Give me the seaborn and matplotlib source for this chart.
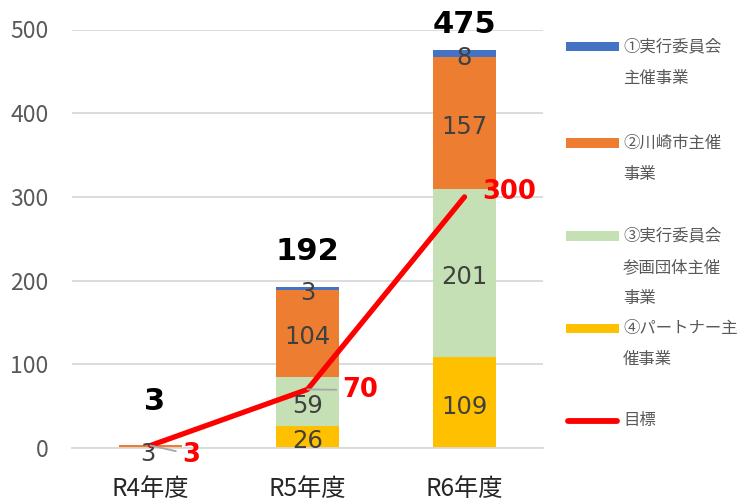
import numpy as np
import pandas as pd
import matplotlib
matplotlib.use("Agg")
import matplotlib.pyplot as plt
from matplotlib.lines import Line2D
from matplotlib.patches import Rectangle
import seaborn as sns

# ---------------- data ----------------
categories = ["R4年度", "R5年度", "R6年度"]
s1_jikko = [0, 3, 8]          # ①実行委員会主催事業
s2_kawasaki = [3, 104, 157]   # ②川崎市主催事業
s3_sankaku = [0, 59, 201]     # ③実行委員会参画団体主催事業
s4_partner = [0, 26, 109]     # ④パートナー主催事業
target = [3, 70, 300]         # 目標
yticks = [0, 100, 200, 300, 400, 500]

series_labels = ["①実行委員会\n主催事業", "②川崎市主催\n事業",
                 "③実行委員会\n参画団体主催\n事業", "④パートナー主\n催事業", "目標"]

# ---------------- style ----------------
C1, C2, C3, C4 = "#4472C4", "#ED7D31", "#C5E0B4", "#FFC000"
RED = "#FF0000"
GRID = "#D9D9D9"

sns.set_theme(style="white")
plt.rcParams["font.family"] = ["Noto Sans CJK JP", "DejaVu Sans"]

fig = plt.figure(figsize=(7.42, 5.01), dpi=100)
W, H = 742, 501
ax = fig.add_axes([72 / W, 1 - 448 / H, 471 / W, (448 - 29.5) / H])

df = pd.DataFrame({"cat": categories,
                   "s1": s1_jikko, "s2": s2_kawasaki,
                   "s3": s3_sankaku, "s4": s4_partner, "target": target})
df["c4"] = df["s4"]
df["c3"] = df["c4"] + df["s3"]
df["c2"] = df["c3"] + df["s2"]
df["c1"] = df["c2"] + df["s1"]

# stacked bars: draw cumulative layers, tallest first
for col, color in [("c1", C1), ("c2", C2), ("c3", C3), ("c4", C4)]:
    sns.barplot(data=df, x="cat", y=col, color=color, width=0.4,
                saturation=1, linewidth=0, ax=ax, zorder=2)

# target line
df["xpos"] = np.arange(len(categories))
sns.lineplot(data=df, x="xpos", y="target", color=RED, linewidth=3.8,
             ax=ax, zorder=4, solid_capstyle="round", sort=False)

ax.set_xlim(-0.5, len(categories) - 0.5)
ax.set_ylim(0, 500)
ax.set_yticks(yticks)
ax.set_xticks(range(len(categories)))
ax.set_xticklabels(categories)
ax.set_xlabel("")
ax.set_ylabel("")
ax.yaxis.grid(True, color=GRID, linewidth=1.3, zorder=0)
ax.set_axisbelow(True)
for sp in ["top", "right", "left"]:
    ax.spines[sp].set_visible(False)
ax.spines["bottom"].set_color(GRID)
ax.spines["bottom"].set_linewidth(1.3)
ax.tick_params(axis="y", length=0, pad=17, labelsize=16.5, labelcolor="#595959")
ax.tick_params(axis="x", length=0, pad=20, labelsize=17.5, labelcolor="#262626")

# segment labels
LBL = dict(ha="center", va="center", fontsize=17.5, color="#404040",
           family="DejaVu Sans", zorder=5)
for i in range(len(categories)):
    segs = [(df.s4[i], 0), (df.s3[i], df.c4[i]), (df.s2[i], df.c3[i]), (df.s1[i], df.c2[i])]
    for val, base in segs:
        if val <= 0:
            continue
        if val < 5 and i == 0:
            off = (-2, -5)
        else:
            off = (0, -3)
        ax.annotate(f"{val}", (i, base + val / 2), xytext=off,
                    textcoords="offset points", **LBL)

# totals
total_offsets = [(3, 32), (0, 26), (0, 19)]
for i, tot in enumerate(df["c1"]):
    ax.annotate(f"{tot}", (i, tot), xytext=total_offsets[i], textcoords="offset points",
                ha="center", va="center", fontsize=22, fontweight="bold",
                color="black", family="DejaVu Sans", zorder=6)

# target labels
target_offsets = [(29, -6.5), (38, -0.5), (32, 3.6)]
for i, t in enumerate(target):
    arrow = None
    if i < 2:
        arrow = dict(arrowstyle="-", color="#A6A6A6", lw=1.3, shrinkA=2, shrinkB=0)
    ax.annotate(f"{t}", (i, t), xytext=target_offsets[i], textcoords="offset points",
                ha="center", va="center", fontsize=18.5, fontweight="bold",
                color=RED, family="DejaVu Sans", zorder=6, arrowprops=arrow)

# legend (manual, Excel-like slots)
entry_y = [47, 143, 236, 328, 421]
colors = [C1, C2, C3, C4]
for k, lab in enumerate(series_labels):
    y = entry_y[k]
    if k < 4:
        fig.add_artist(Rectangle((566 / W, 1 - (y + 4.5) / H), 53 / W, 9 / H,
                                 transform=fig.transFigure, facecolor=colors[k],
                                 edgecolor="none"))
    else:
        fig.add_artist(Line2D([568 / W, 617 / W], [1 - y / H, 1 - y / H],
                              transform=fig.transFigure, color=RED, linewidth=4.2,
                              solid_capstyle="round"))
    for j, line in enumerate(lab.split("\n")):
        fig.text(623 / W, 1 - (y + 31.5 * j) / H, line, ha="left", va="center",
                 fontsize=11.8, color="#595959")

fig.savefig("out.png", dpi=100)
